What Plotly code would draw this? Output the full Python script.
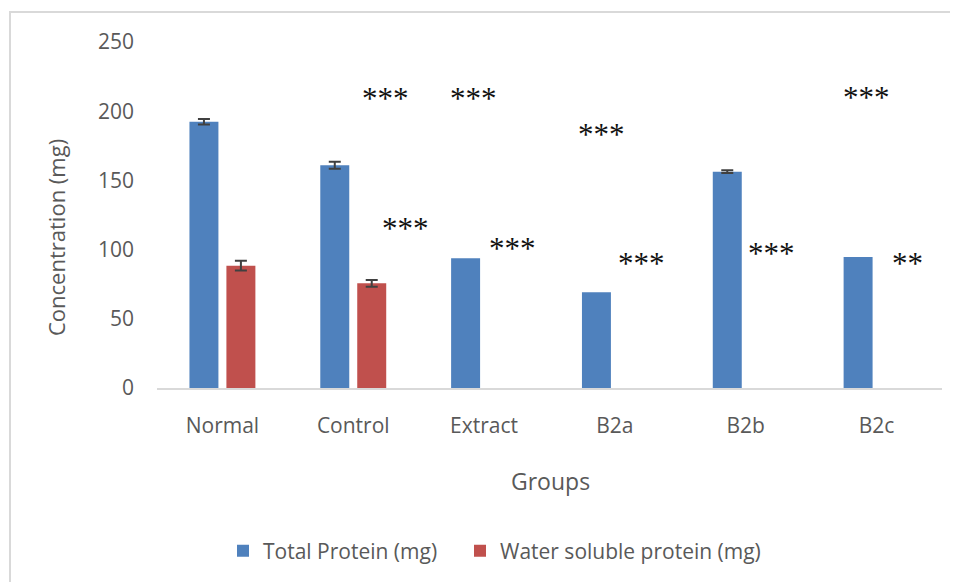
import plotly.graph_objects as go

NA = "NaN"  # no error bar drawn for this point

groups = ["Normal", "Control", "Extract", "B2a", "B2b", "B2c"]
total_protein = [192.4, 160.9, 93.7, 69.1, 156.3, 94.7]
total_err = [2.0, 2.5, NA, NA, 1.0, NA]
water_protein = [88.4, 75.6, None, None, None, None]
water_err = [3.5, 2.4, NA, NA, NA, NA]

# significance marks: (group index, label, y value, horizontal offset)
sig_group = [1, 1, 2, 2, 3, 3, 4, 5, 5]
sig_label = ["***", "***", "***", "***", "***", "***", "***", "***", "**"]
sig_y = [209, 115, 209, 101, 183, 90, 97.5, 210, 90]
sig_dx = [0.25, 0.40, -0.08, 0.22, -0.10, 0.20, 0.20, -0.08, 0.24]

BLUE = "#4F81BD"
RED = "#C0504D"
GRAY = "#595959"
FONT = "Open Sans"

# page px -> paper coordinates (plot area: x 157..942, y 42..388 on the page)
def px(x):
    return (x - 157) / 785

def py(y):
    return (388 - y) / 346

fig = go.Figure()
fig.add_trace(go.Bar(
    x=groups, y=total_protein, name="Total Protein (mg)", legend="legend",
    marker=dict(color=BLUE, line=dict(width=0)),
    error_y=dict(type="data", array=total_err, color="#404040", thickness=2, width=6),
))
fig.add_trace(go.Bar(
    x=groups, y=water_protein, name="Water soluble protein (mg)", legend="legend2",
    marker=dict(color=RED, line=dict(width=0)),
    error_y=dict(type="data", array=water_err, color="#404040", thickness=2, width=6),
))

annotations = []
for g, lab, yv, dx in zip(sig_group, sig_label, sig_y, sig_dx):
    annotations.append(dict(
        x=g + dx, y=yv, xref="x", yref="y", text=lab, showarrow=False,
        font=dict(family="Liberation Serif", size=31, color="#111111"),
        xanchor="center", yanchor="middle",
    ))
annotations.append(dict(
    x=px(550), y=py(481), xref="paper", yref="paper",
    text="Groups", showarrow=False, xanchor="center", yanchor="middle",
    font=dict(family=FONT, size=23, color=GRAY),
))
annotations.append(dict(
    x=px(56), y=py(238), xref="paper", yref="paper",
    text="Concentration (mg)", showarrow=False, textangle=-90,
    xanchor="center", yanchor="middle",
    font=dict(family=FONT, size=22, color=GRAY),
))

legend_common = dict(orientation="h", xanchor="left", y=py(551), yanchor="middle",
                     font=dict(family=FONT, size=21, color=GRAY), itemwidth=30,
                     borderwidth=0, bgcolor="rgba(0,0,0,0)")

fig.update_layout(
    width=958, height=582,
    margin=dict(l=149, r=24, t=34, b=202),
    paper_bgcolor="white", plot_bgcolor="white",
    barmode="group", bargap=0.435, bargroupgap=0.216,
    showlegend=True,
    legend=dict(x=px(223), **legend_common),
    legend2=dict(x=px(460), **legend_common),
    annotations=annotations,
    shapes=[dict(type="rect", xref="paper", yref="paper",
                 x0=px(10), x1=px(1000), y0=py(700), y1=py(12),
                 line=dict(color="#d9d9d9", width=2), layer="below")],
    font=dict(family=FONT, color=GRAY),
)
fig.update_xaxes(
    showline=True, linecolor="#d9d9d9", linewidth=1.5, ticks="",
    tickfont=dict(family=FONT, size=21, color=GRAY), showgrid=False,
    ticklabelstandoff=18,
)
fig.update_yaxes(
    range=[0, 250], dtick=50, showgrid=False, zeroline=False, showline=False,
    ticks="", tickfont=dict(family=FONT, size=21, color=GRAY),
    ticklabelstandoff=22,
)

fig.write_html("out.html")
